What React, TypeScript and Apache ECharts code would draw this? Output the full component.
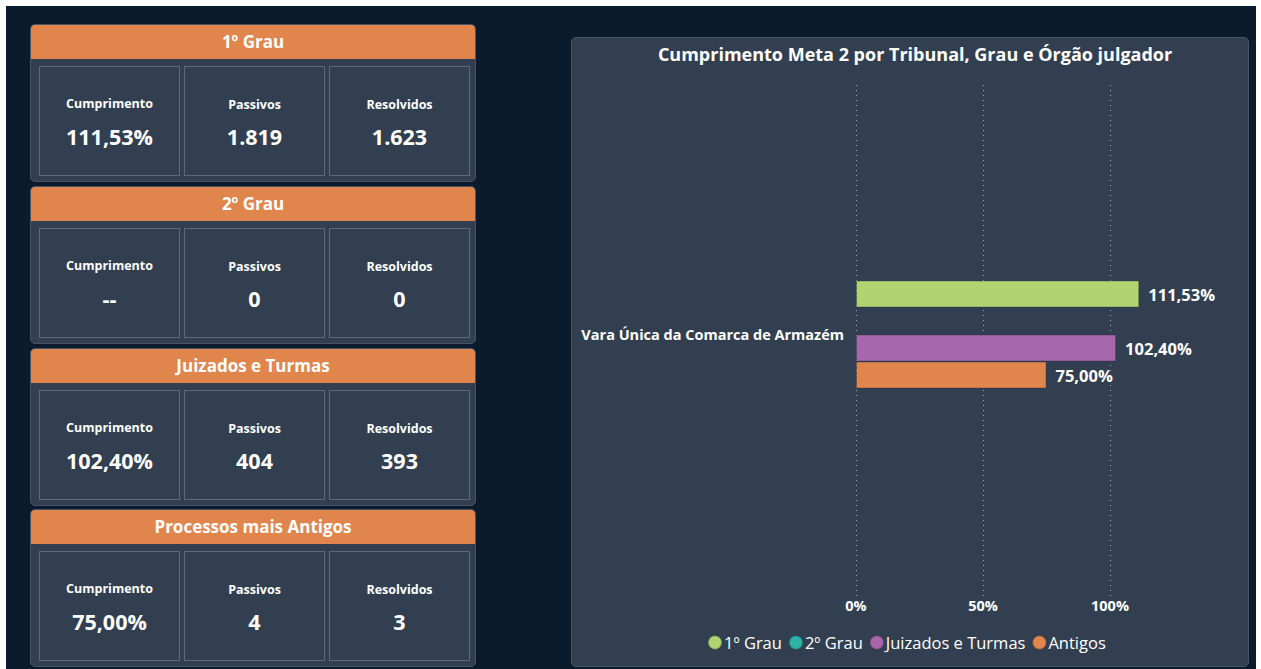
import React, { useEffect, useRef } from "react";
import * as echarts from "echarts";

const cardTitles = ["1º Grau", "2º Grau", "Juizados e Turmas", "Processos mais Antigos"];
const kpiLabels = ["Cumprimento", "Passivos", "Resolvidos"];
const cumprimentoValues = ["111,53%", "--", "102,40%", "75,00%"];
const passivosValues = ["1.819", "0", "404", "4"];
const resolvidosValues = ["1.623", "0", "393", "3"];

const categories = ["Vara Única da Comarca de Armazém"];
const seriesNames = ["1º Grau", "2º Grau", "Juizados e Turmas", "Antigos"];
const seriesColors = ["#B0D46F", "#2BB3A6", "#A866AD", "#E0864D"];
const seriesValues: (number | null)[][] = [[111.53], [null], [102.4], [75.0]];
const xTicks = [0, 50, 100];

const FONT = "'Open Sans', 'Noto Sans', sans-serif";
const BG = "#0B1A2C";
const PANEL = "#323F51";
const PANEL_BORDER = "#465468";
const ORANGE = "#E0864D";

const fmtPct = (v: number) => v.toFixed(2).replace(".", ",") + "%";

function Card({ idx, top }: { idx: number; top: number }) {
  const values = [cumprimentoValues[idx], passivosValues[idx], resolvidosValues[idx]];
  return (
    <div
      style={{
        position: "absolute",
        left: 30,
        top,
        width: 446,
        height: 158,
        background: PANEL,
        border: `1px solid ${PANEL_BORDER}`,
        borderRadius: 5,
        boxSizing: "border-box",
        overflow: "hidden",
      }}
    >
      <div
        style={{
          height: 34,
          background: ORANGE,
          color: "#fff",
          fontFamily: FONT,
          fontWeight: 700,
          fontSize: 17,
          lineHeight: "33px",
          textAlign: "center",
        }}
      >
        {cardTitles[idx]}
      </div>
      {kpiLabels.map((lab, i) => (
        <div
          key={lab}
          style={{
            position: "absolute",
            left: 8 + i * 145,
            top: 41,
            width: 141,
            height: 110,
            border: "1.5px solid #5F6A79",
            boxSizing: "border-box",
            color: "#fff",
            fontFamily: FONT,
            textAlign: "center",
          }}
        >
          <div
            style={{
              position: "absolute",
              left: 0,
              right: 0,
              top: i === 0 ? 28 : 29,
              fontSize: 12.5,
              fontWeight: 700,
              lineHeight: "18px",
            }}
          >
            {lab}
          </div>
          <div
            style={{
              position: "absolute",
              left: 0,
              right: 0,
              top: 56,
              fontSize: 21.5,
              fontWeight: 700,
              lineHeight: "28px",
            }}
          >
            {values[i]}
          </div>
        </div>
      ))}
    </div>
  );
}

export default function App() {
  const ref = useRef<HTMLDivElement>(null);

  useEffect(() => {
    document.body.style.margin = "0";
    if (!ref.current) return;
    const chart = echarts.init(ref.current, undefined, { renderer: "svg" });
    const left = 856;
    const right = 1261 - 1110;
    chart.setOption({
      animation: false,
      backgroundColor: "transparent",
      title: {
        text: "Cumprimento Meta 2 por Tribunal, Grau e Órgão julgador",
        left: 910,
        textAlign: "center",
        top: 40,
        textStyle: { color: "#fff", fontFamily: FONT, fontWeight: 700, fontSize: 18 },
      },
      legend: {
        data: seriesNames,
        left: 707,
        top: 634,
        width: 520,
        icon: "circle",
        itemWidth: 14,
        itemHeight: 14,
        itemGap: 6,
        padding: 0,
        textStyle: { color: "#fff", fontFamily: FONT, fontSize: 16.5, padding: [0, 0, 0, -3] },
      },
      grid: [
        { left, right, top: 85, bottom: 669 - 597 },
        { left, right, top: 281, height: 107 },
      ],
      xAxis: [
        {
          gridIndex: 0,
          type: "value",
          min: xTicks[0],
          max: xTicks[xTicks.length - 1],
          interval: xTicks[1] - xTicks[0],
          axisLine: { show: false },
          axisTick: { show: false },
          axisLabel: {
            color: "#fff",
            fontFamily: FONT,
            fontWeight: 700,
            fontSize: 14.5,
            margin: 1,
            formatter: (v: number) => `${v}%`,
          },
          splitLine: { show: true, lineStyle: { type: [1, 4], color: "#9AA4B2", width: 1 } },
        },
        {
          gridIndex: 1,
          type: "value",
          min: xTicks[0],
          max: xTicks[xTicks.length - 1],
          show: false,
        },
      ],
      yAxis: [
        { gridIndex: 0, type: "category", data: categories, show: false },
        {
          gridIndex: 1,
          type: "category",
          data: categories,
          inverse: true,
          axisLine: { show: false },
          axisTick: { show: false },
          axisLabel: {
            color: "#fff",
            fontFamily: FONT,
            fontWeight: 700,
            fontSize: 14.5,
            margin: 12,
            padding: [6, 0, 0, 0],
          },
        },
      ],
      series: seriesNames.map((name, i) => ({
        name,
        type: "bar",
        xAxisIndex: 1,
        yAxisIndex: 1,
        data: seriesValues[i],
        barWidth: 27,
        barGap: "0%",
        clip: false,
        itemStyle: { color: seriesColors[i], borderColor: "rgba(40,50,60,0.35)", borderWidth: 1 },
        label: {
          show: true,
          position: "right",
          distance: 9,
          color: "#fff",
          fontFamily: FONT,
          fontWeight: 700,
          fontSize: 16.5,
          formatter: (p: any) => (p.value == null ? "" : fmtPct(p.value)),
        },
      })),
    });
    return () => chart.dispose();
  }, []);

  const cardTops = [24, 186, 348, 509];

  return (
    <div style={{ position: "fixed", inset: 0, background: "#fff" }}>
      <div
        style={{
          position: "absolute",
          left: 6,
          top: 6,
          width: 1250,
          height: 669,
          background: BG,
        }}
      />
      {cardTops.map((t, i) => (
        <Card key={i} idx={i} top={t} />
      ))}
      <div
        style={{
          position: "absolute",
          left: 571,
          top: 37,
          width: 678,
          height: 630,
          background: PANEL,
          border: `1px solid ${PANEL_BORDER}`,
          borderRadius: 5,
          boxSizing: "border-box",
        }}
      />
      <div ref={ref} style={{ position: "absolute", left: 0, top: 0, width: 1261, height: 669 }} />
    </div>
  );
}
